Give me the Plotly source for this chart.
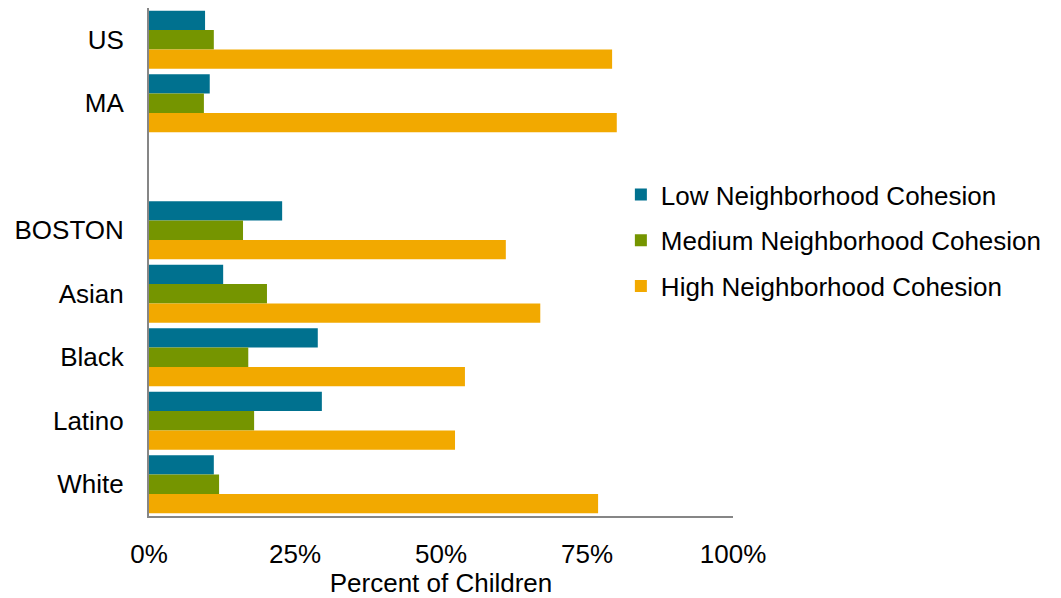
import plotly.graph_objects as go

categories = ["US", "MA", " ", "BOSTON", "Asian", "Black", "Latino", "White"]
low = [9.6, 10.4, None, 22.8, 12.7, 28.9, 29.6, 11.1]
medium = [11.1, 9.4, None, 16.1, 20.2, 17.0, 18.0, 12.0]
high = [79.3, 80.1, None, 61.1, 67.0, 54.1, 52.4, 76.9]
series_names = ["Low Neighborhood Cohesion", "Medium Neighborhood Cohesion", "High Neighborhood Cohesion"]
colors = ["#00718F", "#759500", "#F2A900"]
tick_vals = [0, 25, 50, 75, 100]
tick_text = ["0%", "25%", "50%", "75%", "100%"]

fig = go.Figure()
for name, vals, col in zip(series_names, [low, medium, high], colors):
    fig.add_trace(go.Bar(
        y=categories, x=vals, name=name, orientation="h",
        marker=dict(color=col, line=dict(width=0)),
        legendgroup=name,
    ))

font_family = "Liberation Sans, Arial, sans-serif"
fig.update_layout(
    width=1053, height=590,
    margin=dict(l=141, r=328, t=0, b=82),
    paper_bgcolor="white", plot_bgcolor="white",
    barmode="group", bargap=0.09, bargroupgap=0,
    font=dict(family=font_family, size=26, color="#000000"),
    showlegend=True,
    legend=dict(
        x=0.808, y=0.679, xanchor="left", yanchor="top",
        traceorder="grouped", tracegroupgap=9,
        font=dict(size=26, family=font_family),
        bgcolor="rgba(0,0,0,0)",
    ),
    xaxis=dict(
        range=[0, 100], tickvals=tick_vals, ticktext=tick_text,
        showgrid=False, zeroline=False, automargin=False,
        showline=True, linecolor="#868686", linewidth=2,
        ticks="", ticklabelstandoff=14,
        tickfont=dict(size=26),
        title=dict(text="Percent of Children", font=dict(size=26), standoff=0),
    ),
    yaxis=dict(
        categoryorder="array", categoryarray=categories,
        autorange="reversed", automargin=False,
        showgrid=False, zeroline=False,
        showline=True, linecolor="#868686", linewidth=2,
        ticks="", ticklabelstandoff=18,
        tickfont=dict(size=26),
    ),
)

fig.write_html("out.html")
